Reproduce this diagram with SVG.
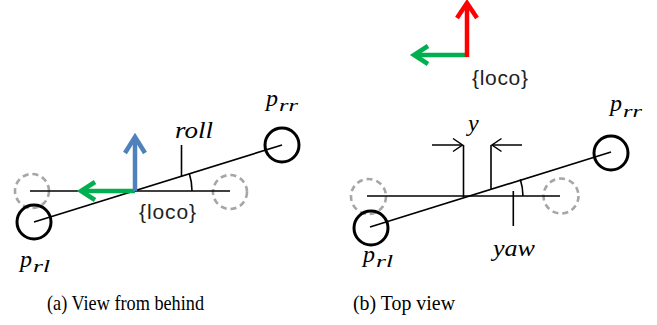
<svg xmlns="http://www.w3.org/2000/svg" width="657" height="325" viewBox="0 0 657 325">
<style>
.ln{stroke:#000;stroke-width:1.6;fill:none}
.wheel{stroke:#000;stroke-width:3;fill:none}
.ghost{stroke:#a6a6a6;stroke-width:2.6;fill:none;stroke-dasharray:6 4}
.arr{fill:none;stroke-width:4.5;stroke-linecap:butt;stroke-linejoin:miter}
.dim{fill:none;stroke:#000;stroke-width:1.5}
.math{font-family:"Liberation Serif","Times New Roman",serif;font-style:italic;font-size:24px;fill:#000}
.sub{font-size:17px}
.frame{font-family:"Liberation Sans",Arial,sans-serif;font-size:21px;fill:#222}
.cap{font-family:"Liberation Serif","Times New Roman",serif;font-size:21px;fill:#000}
</style>
<rect width="657" height="325" fill="#fff"/>

<!-- Panel (a) -->
<g id="a-ghost-left"><circle class="ghost" cx="32" cy="191" r="17"/></g>
<g id="a-ghost-right"><circle class="ghost" cx="230" cy="192" r="17"/></g>
<g id="a-connectors">
  <line class="ln" x1="30" y1="191" x2="230" y2="191"/>
  <line class="ln" x1="34" y1="222" x2="282" y2="145"/>
  <line class="ln" x1="181.5" y1="145" x2="181.5" y2="177"/>
  <path class="ln" d="M192,191 A58,58 0 0 0 189.4,173.8"/>
</g>
<g id="a-wheel-rl"><circle class="wheel" cx="34" cy="222" r="17"/></g>
<g id="a-wheel-rr"><circle class="wheel" cx="282" cy="145" r="17"/></g>
<g id="a-frame">
  <line class="arr" stroke="#00b050" x1="135" y1="191" x2="82" y2="191"/>
  <polyline class="arr" stroke="#00b050" points="95,182 81,191 95,200"/>
  <line class="arr" stroke="#4f81bd" x1="135" y1="191" x2="135" y2="138"/>
  <polyline class="arr" stroke="#4f81bd" points="125,153 135,137 145,153"/>
  <text class="frame" x="139" y="219" textLength="57">{loco}</text>
</g>
<g id="a-labels">
  <text class="math" x="266" y="106">p<tspan class="sub" x="279" y="111" textLength="19" lengthAdjust="spacingAndGlyphs">rr</tspan></text>
  <text class="math" x="175" y="138" textLength="38" lengthAdjust="spacingAndGlyphs">roll</text>
  <text class="math" x="20" y="267">p<tspan class="sub" x="33" y="272" textLength="17" lengthAdjust="spacingAndGlyphs">rl</tspan></text>
</g>

<!-- Panel (b) -->
<g id="b-frame">
  <line class="arr" stroke="#00b050" x1="467" y1="55" x2="416" y2="55"/>
  <polyline class="arr" stroke="#00b050" points="428,46 414,55 428,64"/>
  <line class="arr" stroke="#ff0000" x1="467" y1="57" x2="467" y2="5"/>
  <polyline class="arr" stroke="#ff0000" points="457,18 467,3 477,18"/>
  <text class="frame" x="472" y="85" textLength="56">{loco}</text>
</g>
<g id="b-ghost-left"><circle class="ghost" cx="368.5" cy="196.5" r="17.5"/></g>
<g id="b-ghost-right"><circle class="ghost" cx="561" cy="196" r="17.5"/></g>
<g id="b-connectors">
  <line class="ln" x1="367" y1="196" x2="560" y2="196"/>
  <line class="ln" x1="370" y1="227" x2="611" y2="152"/>
  <line class="ln" x1="463.5" y1="145" x2="463.5" y2="197"/>
  <line class="ln" x1="491" y1="145" x2="491" y2="189"/>
  <line class="ln" x1="513.3" y1="191" x2="513.3" y2="226"/>
  <path class="ln" d="M523,196 A60,60 0 0 0 520.3,179.2"/>
  <line class="dim" x1="432" y1="145" x2="462" y2="145"/>
  <polyline class="dim" points="453,138.5 462.5,145 453,151.5"/>
  <line class="dim" x1="522" y1="145" x2="492" y2="145"/>
  <polyline class="dim" points="501.5,138.5 492,145 501.5,151.5"/>
</g>
<g id="b-wheel-rl"><circle class="wheel" cx="371" cy="228" r="17"/></g>
<g id="b-wheel-rr"><circle class="wheel" cx="611" cy="153" r="17"/></g>
<g id="b-labels">
  <text class="math" x="468" y="131">y</text>
  <text class="math" x="493" y="256" textLength="42" lengthAdjust="spacingAndGlyphs">yaw</text>
  <text class="math" x="610" y="111">p<tspan class="sub" x="623" y="117" textLength="19" lengthAdjust="spacingAndGlyphs">rr</tspan></text>
  <text class="math" x="363" y="262">p<tspan class="sub" x="376" y="267" textLength="17" lengthAdjust="spacingAndGlyphs">rl</tspan></text>
</g>

<!-- Captions -->
<g id="captions">
  <text class="cap" x="47" y="310" textLength="157" lengthAdjust="spacingAndGlyphs">(a) View from behind</text>
  <text class="cap" x="353" y="310" textLength="102" lengthAdjust="spacingAndGlyphs">(b) Top view</text>
</g>
</svg>
